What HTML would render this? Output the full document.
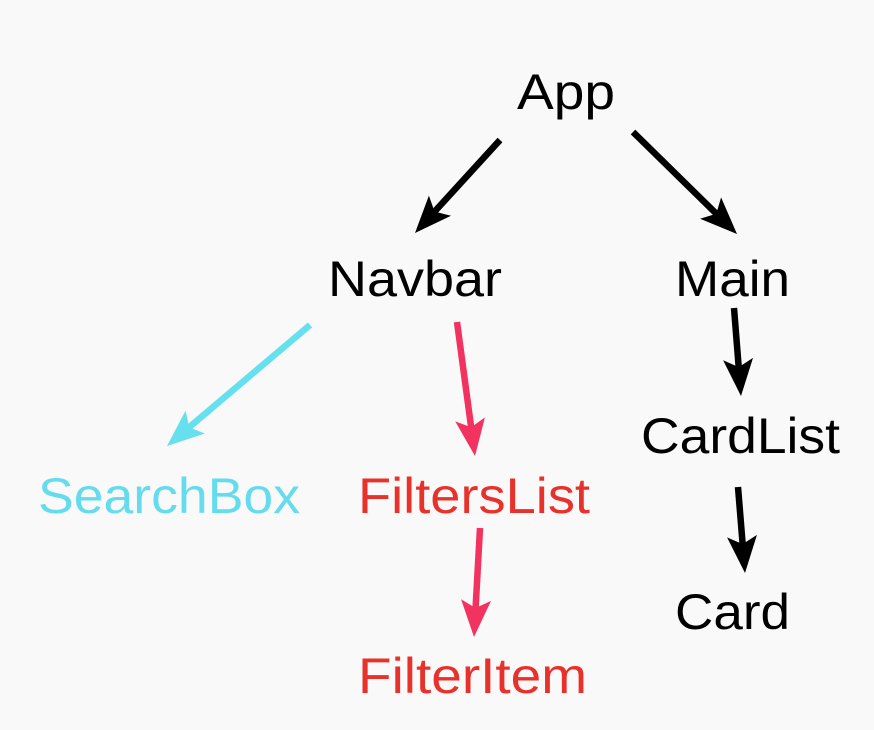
<!DOCTYPE html>
<html><head><meta charset="utf-8"><style>
html,body{margin:0;padding:0;background:#f9f9f9;}
svg{display:block;}
text{font-family:"Liberation Sans",sans-serif;font-size:50px;}
</style></head><body>
<svg width="874" height="730" viewBox="0 0 874 730" xmlns="http://www.w3.org/2000/svg">
<rect width="874" height="730" fill="#f9f9f9"/>
<text x="517" y="109" textLength="98" lengthAdjust="spacingAndGlyphs" fill="#000">App</text>
<text x="328" y="296" textLength="174" lengthAdjust="spacingAndGlyphs" fill="#000">Navbar</text>
<text x="675" y="296" textLength="115" lengthAdjust="spacingAndGlyphs" fill="#000">Main</text>
<text x="641" y="453" textLength="199" lengthAdjust="spacingAndGlyphs" fill="#000">CardList</text>
<text x="675" y="629" textLength="115" lengthAdjust="spacingAndGlyphs" fill="#000">Card</text>
<text x="38" y="513" textLength="262" lengthAdjust="spacingAndGlyphs" fill="#64dcee">SearchBox</text>
<text x="358" y="513" textLength="232" lengthAdjust="spacingAndGlyphs" fill="#e8312a">FiltersList</text>
<text x="358" y="693" textLength="229" lengthAdjust="spacingAndGlyphs" fill="#e8312a">FilterItem</text>
<g id="arrows"></g>
</svg>
<script>
var A=[[500,140,415,233,'#000'],[633,132,737,234,'#000'],[310,325,167,446,'#66e0ee'],[457,322,475,456,'#f2335f'],[480,528,474,637,'#f2335f'],[734,308,741,396,'#000'],[738,487,745,573,'#000']];
var g=document.getElementById('arrows'),s='';
A.forEach(function(a){var dx=a[2]-a[0],dy=a[3]-a[1],L=Math.hypot(dx,dy),ux=dx/L,uy=dy/L,px=-uy,py=ux;
var ex=a[2]-ux*24,ey=a[3]-uy*24;
s+='<line x1="'+a[0]+'" y1="'+a[1]+'" x2="'+ex+'" y2="'+ey+'" stroke="'+a[4]+'" stroke-width="6.5"/>';
var bx=a[2]-ux*37,by=a[3]-uy*37,nx=a[2]-ux*29,ny=a[3]-uy*29;
s+='<path d="M'+a[2]+','+a[3]+' L'+(bx+px*15)+','+(by+py*15)+' L'+nx+','+ny+' L'+(bx-px*15)+','+(by-py*15)+' Z" fill="'+a[4]+'"/>';});
g.innerHTML=s;
</script>
</body></html>
